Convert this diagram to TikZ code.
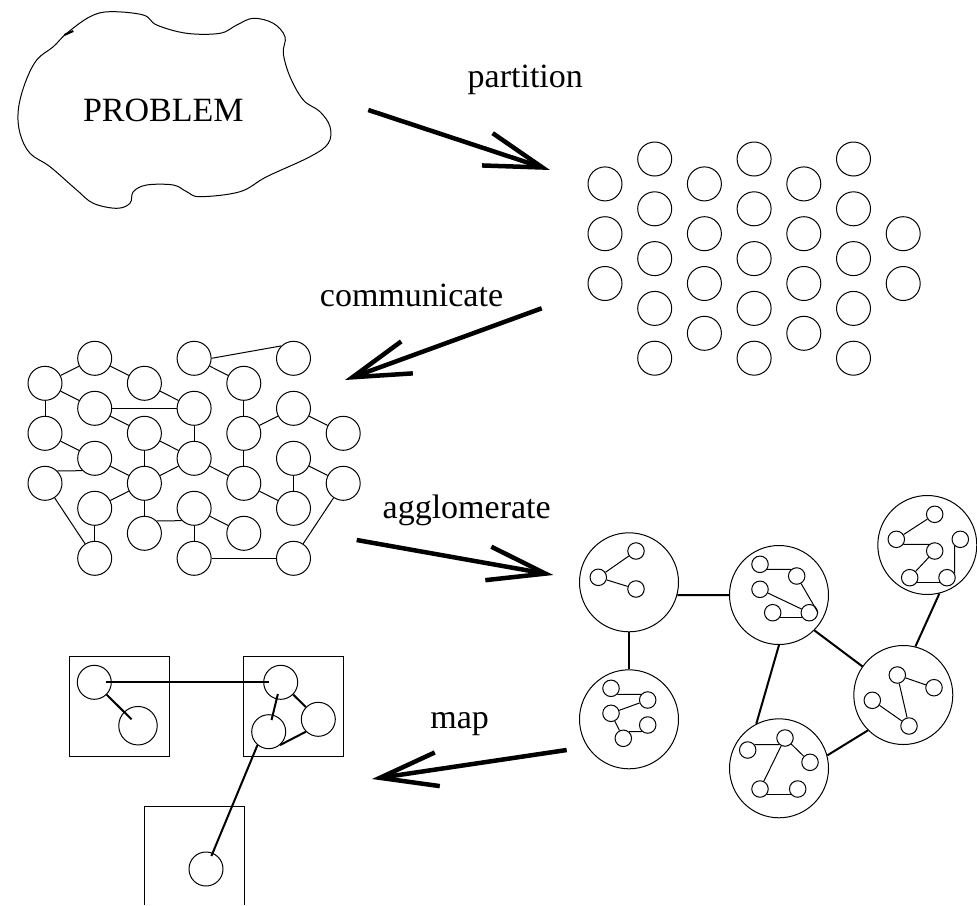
\documentclass[tikz,border=0pt]{standalone}
\usepackage{fontspec}
\setmainfont{Liberation Serif}
\usetikzlibrary{arrows.meta}

\begin{document}
\begin{tikzpicture}[x=1pt,y=-1pt,line width=1pt,
    cell/.style={circle,draw,minimum size=34pt,inner sep=0pt},
    group/.style={circle,draw,minimum size=99pt,inner sep=0pt},
    task/.style={circle,draw,minimum size=16.5pt,inner sep=0pt},
    link/.style={line width=2pt},
    bigarrow/.style={line width=4.5pt,-{Straight Barb[length=58pt,width=34pt]}},
    stagename/.style={anchor=base,font=\fontsize{34}{40}\selectfont}]

    \useasboundingbox (0,0) rectangle (977,905);

    % the problem
    \draw plot[smooth cycle,tension=0.6] coordinates {(66.7,33.3) (90,16.7) (110,11.7) (143.3,15) (156.7,25) (186.7,33.3) (220,33.3) (236.7,25) (253.3,18.3) (273.3,23.3) (285,36.7) (283.3,53.3) (290,76.7) (303.3,100) (320,111.7) (330,126.7) (328.3,143.3) (310,156.7) (266.7,176.7) (240,191.7) (200,196.7) (186.7,191.7) (173.3,185) (146.7,185) (133.3,191.7) (130,203.3) (116.7,208.3) (93.3,203.3) (76.7,190) (50,166.7) (30,153.3) (20,133.3) (18.3,110) (25,83.3) (36.7,60) (53.3,46.7)};
    \draw[line width=2pt] (64.3,35) -- (73.3,31);
    \node[stagename] (problem) at (163.3,121.7) {PROBLEM};

    % partition
    \node[stagename] (partlabel) at (525.3,87.7) {partition};
    \coordinate (part-s) at (368.3,110);
    \coordinate (part-e) at (550,170);
    \draw[bigarrow] (part-s) -- (part-e);
    \foreach \i/\ks in {1/{2,4,6},2/{1,3,5,7,9},3/{2,4,6,8},4/{1,3,5,7,9},5/{2,4,6,8},6/{1,3,5,7,9},7/{4,6}}
      \foreach \k in \ks
        \node[cell] (p-\i-\k) at ({605+49.7*(\i-1)},{159+24.9*(\k-1)}) {};

    % communicate
    \node[stagename] (commlabel) at (411.5,306.7) {communicate};
    \coordinate (comm-s) at (541.7,308.3);
    \coordinate (comm-e) at (345,380);
    \draw[bigarrow] (comm-s) -- (comm-e);
    \foreach \i/\ks in {1/{2,4,6},2/{1,3,5,7,9},3/{2,4,6,8},4/{1,3,5,7,9},5/{2,4,6,8},6/{1,3,5,7,9},7/{4,6}}
      \foreach \k in \ks
        \node[cell] (n-\i-\k) at ({45+49.7*(\i-1)},{358.3+25*(\k-1)}) {};
    \foreach \a/\b in {n-1-2/n-2-1,n-2-1/n-3-2,n-1-2/n-1-4,n-1-2/n-2-3,n-2-3/n-4-3,n-3-2/n-4-3,n-4-1/n-5-2,n-2-3/n-3-4,n-4-3/n-4-5,n-5-2/n-5-4,n-5-4/n-6-3,n-6-3/n-7-4,n-1-4/n-2-5,n-3-4/n-3-6,n-3-4/n-4-5,n-5-4/n-5-6,n-2-5/n-3-6,n-3-6/n-4-5,n-4-5/n-5-6,n-6-5/n-6-7,n-6-5/n-7-6,n-1-6/n-2-9,n-2-7/n-3-6,n-2-7/n-2-9,n-3-6/n-3-8,n-5-6/n-6-7,n-4-7/n-4-9,n-4-7/n-5-8,n-4-9/n-6-9,n-6-9/n-7-6}
      \draw (\a) -- (\b);
    \draw (n-4-1.east) -- (n-6-1.north west);
    \draw (n-1-6.45) -- (n-2-5.225);
    \draw (n-3-8.45) -- (n-4-7.225);

    % agglomerate
    \node[stagename] (agglabel) at (466.7,518.3) {agglomerate};
    \coordinate (agg-s) at (356.7,540);
    \coordinate (agg-e) at (553.3,575);
    \draw[bigarrow] (agg-s) -- (agg-e);
    \node[group] (ga) at (629,582.3) {};
    \node[group] (gb) at (779,595) {};
    \node[group] (gc) at (927.3,545) {};
    \node[group] (gd) at (903.3,695) {};
    \node[group] (ge) at (629,719.3) {};
    \node[group] (gf) at (779,768.3) {};
    \draw[link] (ga.-15) -- (gb.west);
    \draw[link] (ga) -- (ge);
    \draw[link] (gb.-45) -- (gd.145);
    \draw[link] (gb.south) -- (gf.117);
    \draw[link] (gd.225) -- (gf.15);
    \draw[link] (gc.-76) -- (gd.76);

    \node[task] (ga1) at (636,551) {};
    \node[task] (ga2) at (598.3,577.3) {};
    \node[task] (ga3) at (636,589) {};
    \draw (ga2) -- (ga1);
    \draw (ga2) -- (ga3);

    \node[task] (gb1) at (760,564.3) {};
    \node[task] (gb2) at (796.7,576) {};
    \node[task] (gb3) at (760,589.3) {};
    \node[task] (gb4) at (772.7,612.7) {};
    \node[task] (gb5) at (809.3,612.7) {};
    \draw (gb1.-35) -- (gb2.130);
    \draw (gb2) -- (gb5.east);
    \draw (gb3) -- (gb5);
    \draw (gb4.-35) -- (gb5.215);

    \node[task] (gc1) at (934.7,514.3) {};
    \node[task] (gc2) at (896.3,539.3) {};
    \node[task] (gc3) at (960.3,539.3) {};
    \node[task] (gc4) at (934.7,551) {};
    \node[task] (gc5) at (909.7,577.7) {};
    \node[task] (gc6) at (947,577.7) {};
    \draw (gc2) -- (gc1);
    \draw (gc2.-35) -- (gc4.130);
    \draw (gc4) -- (gc5);
    \draw (gc5.-32) -- (gc6.212);
    \draw (gc6.28) -- (gc3.230);

    \node[task] (gd1) at (897.3,675) {};
    \node[task] (gd2) at (934,687.7) {};
    \node[task] (gd3) at (872.3,700.3) {};
    \node[task] (gd4) at (909,726) {};
    \draw (gd1) -- (gd2);
    \draw (gd1) -- (gd4);
    \draw (gd3) -- (gd4);

    \node[task] (ge1) at (611,688.3) {};
    \node[task] (ge2) at (647.7,700) {};
    \node[task] (ge3) at (611,713.3) {};
    \node[task] (ge4) at (647.7,725) {};
    \node[task] (ge5) at (623.3,738.3) {};
    \draw (ge1.-44) -- (ge2.139);
    \draw (ge3) -- (ge2);
    \draw (ge3) -- (ge5);
    \draw (ge5.49) -- (ge4.230);

    \node[task] (gf1) at (785,738) {};
    \node[task] (gf2) at (747.7,750) {};
    \node[task] (gf3) at (810,762.3) {};
    \node[task] (gf4) at (760,789) {};
    \node[task] (gf5) at (797.7,789) {};
    \draw (gf2.37) -- (gf1.230);
    \draw (gf1) -- (gf3);
    \draw (gf1) -- (gf4);
    \draw (gf4.-35) -- (gf5.215);

    % map
    \node[stagename] (maplabel) at (459.7,728.3) {map};
    \coordinate (map-s) at (566.7,750);
    \coordinate (map-e) at (372,779);
    \draw[bigarrow] (map-s) -- (map-e);
    \node[draw,minimum size=100pt,inner sep=0pt] (box1) at (119.3,706.7) {};
    \node[draw,minimum size=100pt,inner sep=0pt] (box2) at (293.3,706.7) {};
    \draw (144.3,905) |- (244.3,806) -- (244.3,905);
    \node[cell] (mp) at (94.3,682.3) {};
    \node[cell,minimum size=38.5pt] (mq) at (138,725.7) {};
    \node[cell] (mr) at (280.7,682.3) {};
    \node[cell] (ms) at (318.3,719.3) {};
    \node[cell] (mt) at (268.7,731.7) {};
    \node[cell] (mu) at (206,869) {};
    \draw[link,shorten <=12pt,shorten >=12pt] (mp.center) -- (mr.center);
    \draw[link,shorten >=9pt] (mp.-45) -- (mq.center);
    \draw[link,shorten <=12pt,shorten >=12pt] (mr.center) -- (mt.center);
    \draw[link] (mr) -- (ms);
    \draw[link] (mt.-50) -- (ms.225);
    \draw[link,shorten >=14pt] (mt.230) -- (mu.center);
\end{tikzpicture}
\end{document}
